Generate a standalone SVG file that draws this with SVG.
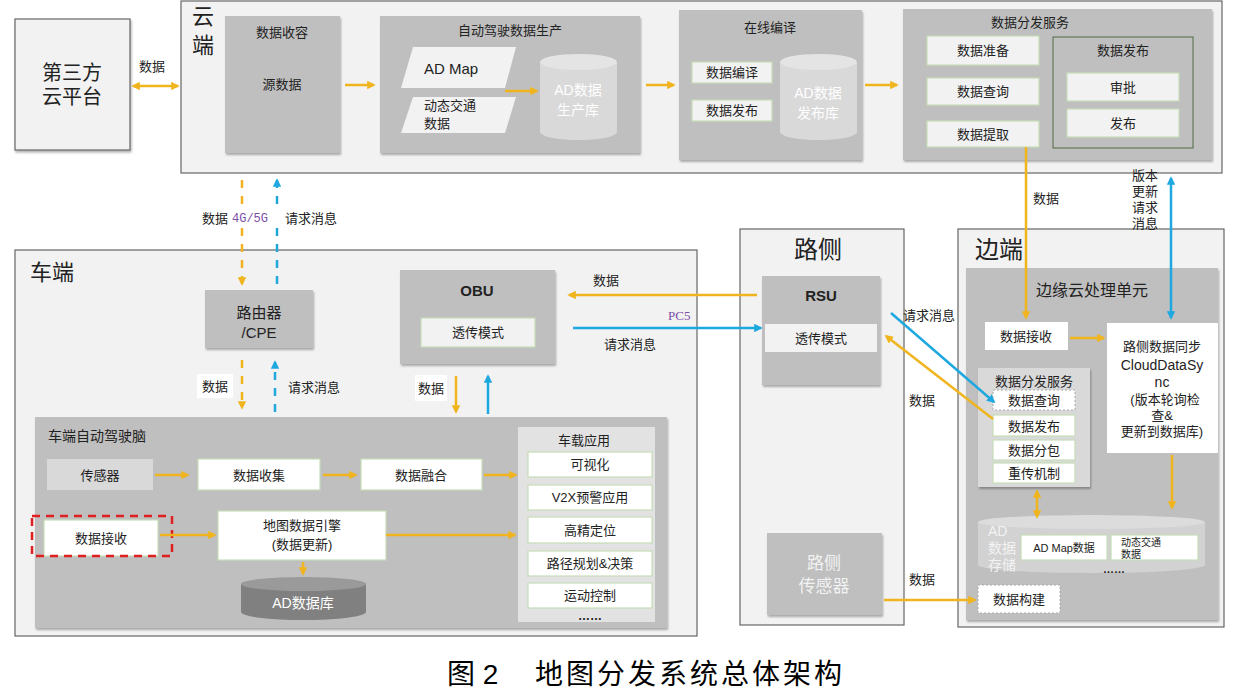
<svg xmlns="http://www.w3.org/2000/svg" width="1233" height="695" viewBox="0 0 1233 695">
<defs>
<style>
text{font-family:"Liberation Sans","Noto Sans CJK SC",sans-serif;fill:#222;font-size:13px}
.c{text-anchor:middle}
.zone{fill:#f2f2f2;stroke:#666;stroke-width:1.2}
.grp{fill:#bfbfbf}
.lt{fill:#d9d9d9}
.wb{fill:#fff;stroke:#c6dcb8;stroke-width:1.2}
.gb{fill:#f2f2f2;stroke:#c6dcb8;stroke-width:1.2}
.dash{fill:#fff;stroke:#aaa;stroke-width:1;stroke-dasharray:2 2}
.o{stroke:#f0b41e;stroke-width:2.5;fill:none}
.b{stroke:#1fa8e0;stroke-width:2.5;fill:none}
.od{stroke:#f0b41e;stroke-width:2.5;fill:none;stroke-dasharray:8 8}
.bd{stroke:#1fa8e0;stroke-width:2.5;fill:none;stroke-dasharray:8 8}
.big{font-size:22px}
.wt{fill:#fff}
.pur{fill:#7b4fa8;font-family:"Liberation Mono",monospace}
</style>
<filter id="sh" x="-5%" y="-5%" width="112%" height="115%"><feDropShadow dx="1" dy="2" stdDeviation="1.2" flood-color="#000" flood-opacity="0.3"/></filter>
<marker id="ao" viewBox="0 0 10 10" refX="8" refY="5" markerWidth="3.4" markerHeight="3.4" orient="auto-start-reverse"><path d="M0,0L10,5L0,10z" fill="#f0b41e"/></marker>
<marker id="ab" viewBox="0 0 10 10" refX="8" refY="5" markerWidth="3.4" markerHeight="3.4" orient="auto-start-reverse"><path d="M0,0L10,5L0,10z" fill="#1fa8e0"/></marker>
</defs>
<rect width="1233" height="695" fill="#fff"/>

<g id="third">
<rect x="15" y="19" width="115" height="131" class="zone" stroke="#444" filter="url(#sh)"/>
<text x="72" y="80" class="c" style="font-size:20px">第三方</text>
<text x="72" y="104" class="c" style="font-size:20px">云平台</text>
</g>

<g id="cloud">
<rect x="181" y="1" width="1041" height="172" class="zone" stroke="#555"/>
<text x="203" y="24" class="c big">云</text>
<text x="203" y="53" class="c big">端</text>
</g>
<g id="shourong">
<rect x="225" y="16" width="115" height="137" class="grp" filter="url(#sh)"/>
<text x="282" y="37" class="c">数据收容</text>
<text x="282" y="89" class="c">源数据</text>
</g>
<g id="shengchan">
<rect x="380" y="16" width="260" height="137" class="grp" filter="url(#sh)"/>
<text x="510" y="35" class="c">自动驾驶数据生产</text>
<polygon points="413,47 516,47 505,88 401,88" fill="#f2f2f2"/>
<text x="424" y="74" style="font-size:15px">AD Map</text>
<polygon points="413,97 516,97 505,133 401,133" fill="#f2f2f2"/>
<text x="424" y="110">动态交通</text>
<text x="424" y="128">数据</text>
<path d="M540,62 v70 a38,8 0 0 0 77,0 v-70" fill="#d9d9d9"/>
<ellipse cx="578.5" cy="62" rx="38.5" ry="8" fill="#e4e4e4"/>
<text x="578" y="95" class="c wt" style="font-size:14px">AD数据</text>
<text x="578" y="115" class="c wt" style="font-size:14px">生产库</text>
</g>
<g id="bianyi">
<rect x="679" y="10" width="183" height="150" class="grp" filter="url(#sh)"/>
<text x="770" y="32" class="c">在线编译</text>
<rect x="692" y="62" width="80" height="21" class="gb"/>
<text x="732" y="77" class="c">数据编译</text>
<rect x="692" y="100" width="80" height="21" class="gb"/>
<text x="732" y="115" class="c">数据发布</text>
<path d="M780,62 v70 a38,8 0 0 0 77,0 v-70" fill="#d9d9d9"/>
<ellipse cx="818.5" cy="62" rx="38.5" ry="8" fill="#e4e4e4"/>
<text x="818" y="98" class="c wt" style="font-size:14px">AD数据</text>
<text x="818" y="118" class="c wt" style="font-size:14px">发布库</text>
</g>
<g id="fenfa">
<rect x="903" y="9" width="309" height="151" class="grp" filter="url(#sh)"/>
<text x="1030" y="27" class="c">数据分发服务</text>
<rect x="927" y="36" width="112" height="29" class="gb"/>
<text x="983" y="55" class="c">数据准备</text>
<rect x="927" y="78" width="112" height="27" class="gb"/>
<text x="983" y="96" class="c">数据查询</text>
<rect x="927" y="121" width="112" height="26" class="gb"/>
<text x="983" y="139" class="c">数据提取</text>
<rect x="1053" y="37" width="140" height="111" fill="none" stroke="#4f6b45" stroke-width="1"/>
<text x="1123" y="55" class="c">数据发布</text>
<rect x="1067" y="73" width="112" height="28" class="gb"/>
<text x="1123" y="92" class="c">审批</text>
<rect x="1067" y="109" width="112" height="28" class="gb"/>
<text x="1123" y="128" class="c">发布</text>
</g>

<g id="car">
<rect x="15" y="250" width="682" height="386" class="zone" stroke="#555"/>
<text x="30" y="280" class="big">车端</text>
</g>
<g id="router">
<rect x="205" y="290" width="108" height="58" class="grp" filter="url(#sh)"/>
<text x="259" y="318" class="c" style="font-size:15px">路由器</text>
<text x="259" y="338" class="c" style="font-size:15px">/CPE</text>
</g>
<g id="obu">
<rect x="400" y="270" width="155" height="94" class="grp" filter="url(#sh)"/>
<text x="477" y="296" class="c" style="font-size:15px;font-weight:bold">OBU</text>
<rect x="421" y="318" width="114" height="29" class="gb"/>
<text x="478" y="337" class="c">透传模式</text>
</g>
<g id="brain">
<rect x="35" y="417" width="632" height="211" class="grp" filter="url(#sh)"/>
<text x="48" y="441" style="font-size:14px">车端自动驾驶脑</text>
<rect x="47" y="459" width="106" height="31" fill="#d9d9d9"/>
<text x="100" y="480" class="c">传感器</text>
<rect x="198" y="459" width="122" height="31" class="wb"/>
<text x="259" y="480" class="c">数据收集</text>
<rect x="361" y="459" width="121" height="31" class="wb"/>
<text x="421" y="480" class="c">数据融合</text>
<rect x="44" y="520" width="114" height="36" class="wb"/>
<text x="101" y="543" class="c">数据接收</text>
<rect x="32" y="516" width="140" height="40" fill="none" stroke="#e02020" stroke-width="2.5" stroke-dasharray="8 6"/>
<rect x="218" y="511" width="168" height="49" class="wb"/>
<text x="302" y="530" class="c">地图数据引擎</text>
<text x="302" y="549" class="c">(数据更新)</text>
<path d="M241,584 v28 a62.5,8 0 0 0 125,0 v-28" fill="#808080"/>
<ellipse cx="303.5" cy="584" rx="62.5" ry="7" fill="#9a9a9a"/>
<text x="303" y="608" class="c wt" style="font-size:14px">AD数据库</text>
</g>
<g id="apps">
<rect x="518" y="427" width="137" height="195" fill="#e2e2e2"/>
<text x="584" y="445" class="c">车载应用</text>
<rect x="528" y="452" width="124" height="25" class="wb"/>
<text x="590" y="469" class="c">可视化</text>
<rect x="528" y="485" width="124" height="25" class="wb"/>
<text x="590" y="502" class="c">V2X预警应用</text>
<rect x="528" y="517" width="124" height="26" class="wb"/>
<text x="590" y="535" class="c">高精定位</text>
<rect x="528" y="551" width="124" height="25" class="wb"/>
<text x="590" y="568" class="c">路径规划&amp;决策</text>
<rect x="528" y="583" width="124" height="25" class="wb"/>
<text x="590" y="600" class="c">运动控制</text>
<text x="590" y="620" class="c" style="font-size:12px;font-weight:bold">……</text>
</g>

<g id="roadside">
<rect x="740" y="229" width="164" height="396" class="zone" stroke="#888"/>
<text x="818" y="258" class="c" style="font-size:24px">路侧</text>
</g>
<g id="rsu">
<rect x="762" y="276" width="118" height="109" class="grp" filter="url(#sh)"/>
<text x="821" y="301" class="c" style="font-size:15px;font-weight:bold">RSU</text>
<rect x="765" y="324" width="112" height="28" fill="#f2f2f2"/>
<text x="821" y="343" class="c">透传模式</text>
</g>
<g id="rsensor">
<rect x="767" y="533" width="115" height="82" class="grp" filter="url(#sh)"/>
<text x="824" y="569" class="c" style="font-size:17px;fill:#f2f2f2">路侧</text>
<text x="824" y="592" class="c" style="font-size:17px;fill:#f2f2f2">传感器</text>
</g>

<g id="edge">
<rect x="958" y="229" width="266" height="398" class="zone" stroke="#888"/>
<text x="975" y="258" style="font-size:24px">边端</text>
</g>
<g id="edgecloud">
<rect x="966" y="268" width="252" height="352" class="grp" filter="url(#sh)"/>
<text x="1092" y="296" class="c" style="font-size:16px">边缘云处理单元</text>
<rect x="985" y="322" width="83" height="28" fill="#fff"/>
<text x="1026" y="341" class="c">数据接收</text>
<rect x="1107" y="323" width="111" height="130" fill="#fff"/>
<text x="1162" y="351" class="c">路侧数据同步</text>
<text x="1162" y="370" class="c" style="font-size:14px">CloudDataSy</text>
<text x="1162" y="387" class="c" style="font-size:14px">nc</text>
<text x="1165" y="404" class="c">(版本轮询检</text>
<text x="1162" y="420" class="c">查&amp;</text>
<text x="1162" y="436" class="c">更新到数据库)</text>
<rect x="978" y="368" width="112" height="119" fill="#d9d9d9" filter="url(#sh)"/>
<text x="1034" y="386" class="c">数据分发服务</text>
<rect x="993" y="390" width="82" height="20" class="dash"/>
<text x="1034" y="405" class="c">数据查询</text>
<rect x="993" y="415" width="82" height="21" class="wb"/>
<text x="1034" y="431" class="c">数据发布</text>
<rect x="993" y="440" width="82" height="20" class="wb"/>
<text x="1034" y="455" class="c">数据分包</text>
<rect x="993" y="463" width="82" height="20" class="wb"/>
<text x="1034" y="478" class="c">重传机制</text>
<path d="M978,522 v43 a113.5,8 0 0 0 227,0 v-43" fill="#d2d2d2"/>
<ellipse cx="1091.5" cy="522" rx="113.5" ry="7" fill="#dcdcdc"/>
<text x="988" y="536" style="font-size:14px;fill:#f2f2f2">AD</text>
<text x="988" y="553" style="font-size:14px;fill:#f2f2f2">数据</text>
<text x="988" y="570" style="font-size:14px;fill:#f2f2f2">存储</text>
<rect x="1021" y="535" width="86" height="25" class="wb"/>
<text x="1064" y="552" class="c" style="font-size:11px">AD Map数据</text>
<rect x="1111" y="535" width="87" height="25" class="wb"/>
<text x="1121" y="546" style="font-size:10px">动态交通</text>
<text x="1121" y="558" style="font-size:10px">数据</text>
<text x="1114" y="573" class="c" style="font-size:11px;font-weight:bold">……</text>
<rect x="978" y="585" width="82" height="28" class="dash"/>
<text x="1019" y="604" class="c">数据构建</text>
</g>

<g id="connectors">
<line x1="133" y1="86" x2="178" y2="86" class="o" marker-start="url(#ao)" marker-end="url(#ao)"/>
<line x1="345" y1="85" x2="374" y2="85" class="o" marker-end="url(#ao)"/>
<line x1="505" y1="91" x2="537" y2="91" class="o" marker-end="url(#ao)"/>
<line x1="646" y1="85" x2="674" y2="85" class="o" marker-end="url(#ao)"/>
<line x1="865" y1="85" x2="897" y2="85" class="o" marker-end="url(#ao)"/>
<line x1="1026" y1="147" x2="1026" y2="318" class="o" marker-end="url(#ao)"/>
<line x1="1171" y1="178" x2="1171" y2="318" class="b" marker-start="url(#ab)" marker-end="url(#ab)"/>
<line x1="242" y1="180" x2="242" y2="284" class="od" marker-end="url(#ao)"/>
<line x1="277" y1="284" x2="277" y2="180" class="bd" marker-end="url(#ab)"/>
<line x1="242" y1="360" x2="242" y2="408" class="od" marker-end="url(#ao)"/>
<line x1="275" y1="412" x2="275" y2="362" class="bd" marker-end="url(#ab)"/>
<line x1="456" y1="376" x2="456" y2="412" class="o" marker-end="url(#ao)"/>
<line x1="488" y1="414" x2="488" y2="376" class="b" marker-end="url(#ab)"/>
<line x1="757" y1="295" x2="569" y2="295" class="o" marker-end="url(#ao)"/>
<line x1="573" y1="328" x2="761" y2="328" class="b" marker-end="url(#ab)"/>
<line x1="891" y1="313" x2="994" y2="402" class="b" marker-end="url(#ab)"/>
<line x1="993" y1="419" x2="886" y2="336" class="o" marker-end="url(#ao)"/>
<line x1="1070" y1="338" x2="1104" y2="338" class="o" marker-end="url(#ao)"/>
<line x1="1172" y1="455" x2="1172" y2="508" class="o" marker-end="url(#ao)"/>
<line x1="1037" y1="491" x2="1037" y2="517" class="o" marker-start="url(#ao)" marker-end="url(#ao)"/>
<line x1="884" y1="600" x2="975" y2="600" class="o" marker-end="url(#ao)"/>
<line x1="155" y1="475" x2="188" y2="475" class="o" marker-end="url(#ao)"/>
<line x1="323" y1="475" x2="356" y2="475" class="o" marker-end="url(#ao)"/>
<line x1="484" y1="475" x2="516" y2="475" class="o" marker-end="url(#ao)"/>
<line x1="160" y1="535" x2="215" y2="535" class="o" marker-end="url(#ao)"/>
<line x1="386" y1="535" x2="515" y2="535" class="o" marker-end="url(#ao)"/>
<line x1="303" y1="562" x2="303" y2="574" class="o" marker-end="url(#ao)"/>
</g>

<g id="labels">
<text x="152" y="71" class="c">数据</text>
<rect x="200" y="206" width="140" height="22" fill="#fff"/>
<text x="202" y="223">数据</text>
<text x="232" y="222" class="pur" style="font-size:12px">4G/5G</text>
<text x="285" y="223">请求消息</text>
<rect x="197" y="374" width="36" height="24" fill="#fff"/>
<text x="215" y="391" class="c">数据</text>
<text x="288" y="392">请求消息</text>
<rect x="415" y="375" width="32" height="26" fill="#fff"/>
<text x="431" y="393" class="c">数据</text>
<text x="606" y="285" class="c">数据</text>
<text x="668" y="320" style="font-family:'Liberation Serif',serif;fill:#7b4fa8;font-size:13px">PC5</text>
<text x="630" y="349" class="c">请求消息</text>
<text x="929" y="320" class="c">请求消息</text>
<text x="922" y="405" class="c">数据</text>
<text x="1046" y="203" class="c">数据</text>
<text x="1145" y="180" class="c">版本</text>
<text x="1145" y="196" class="c">更新</text>
<text x="1145" y="212" class="c">请求</text>
<text x="1145" y="228" class="c">消息</text>
<text x="922" y="584" class="c">数据</text>
<text x="447" y="684" style="font-size:28px;fill:#000">图 2</text>
<text x="535" y="684" style="font-size:28px;fill:#000;letter-spacing:3px">地图分发系统总体架构</text>
</g>
</svg>
